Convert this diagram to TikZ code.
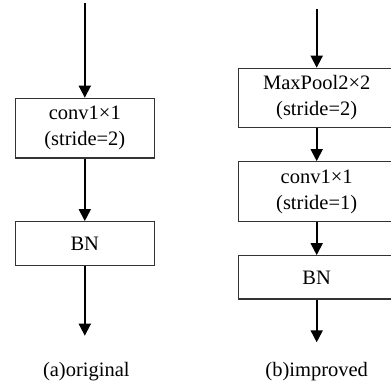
\documentclass[tikz,border=0pt]{standalone}
\usepackage{fontspec}
\setmainfont{Liberation Serif}
\usetikzlibrary{arrows.meta}
\begin{document}
\begin{tikzpicture}[x=1pt,y=-1pt,
  blk/.style={draw=black!80,line width=1.2pt,minimum height=#1,inner sep=0pt,align=center,
    font=\fontsize{20.5}{26}\selectfont},
  lbl/.style={anchor=base,inner sep=0pt,font=\fontsize{20.5}{26}\selectfont},
  flow/.style={line width=1.8pt,-{Triangle[width=12pt,length=12pt]}}]
\useasboundingbox (0,0) rectangle (391,388);
% (a) original
\coordinate (atop) at (84.8,3);
\node[blk=59.7pt,minimum width=139pt] (aconv) at (84.8,128.15) {conv1×1\\(stride=2)};
\node[blk=44pt,minimum width=139pt] (abn) at (84.8,243.7) {BN};
\coordinate (aend) at (84.8,335.7);
\node[lbl] (alab) at (86.3,376.5) {(a)original};
\draw[flow] (atop) -- (aconv.north);
\draw[flow] (aconv.south) -- (abn.north);
\draw[flow] (abn.south) -- (aend);
% (b) improved
\coordinate (btop) at (316.7,9.3);
\node[blk=59.4pt,minimum width=157pt] (bpool) at (316.7,98) {MaxPool2×2\\(stride=2)};
\node[blk=60pt,minimum width=157pt] (bconv) at (316.7,191.7) {conv1×1\\(stride=1)};
\node[blk=43.3pt,minimum width=157pt] (bbn) at (316.7,277.35) {BN};
\coordinate (bend) at (316.7,342.3);
\node[lbl] (blab) at (316.7,376.5) {(b)improved};
\draw[flow] (btop) -- (bpool.north);
\draw[flow] (bpool.south) -- (bconv.north);
\draw[flow] (bconv.south) -- (bbn.north);
\draw[flow] (bbn.south) -- (bend);
\end{tikzpicture}
\end{document}
